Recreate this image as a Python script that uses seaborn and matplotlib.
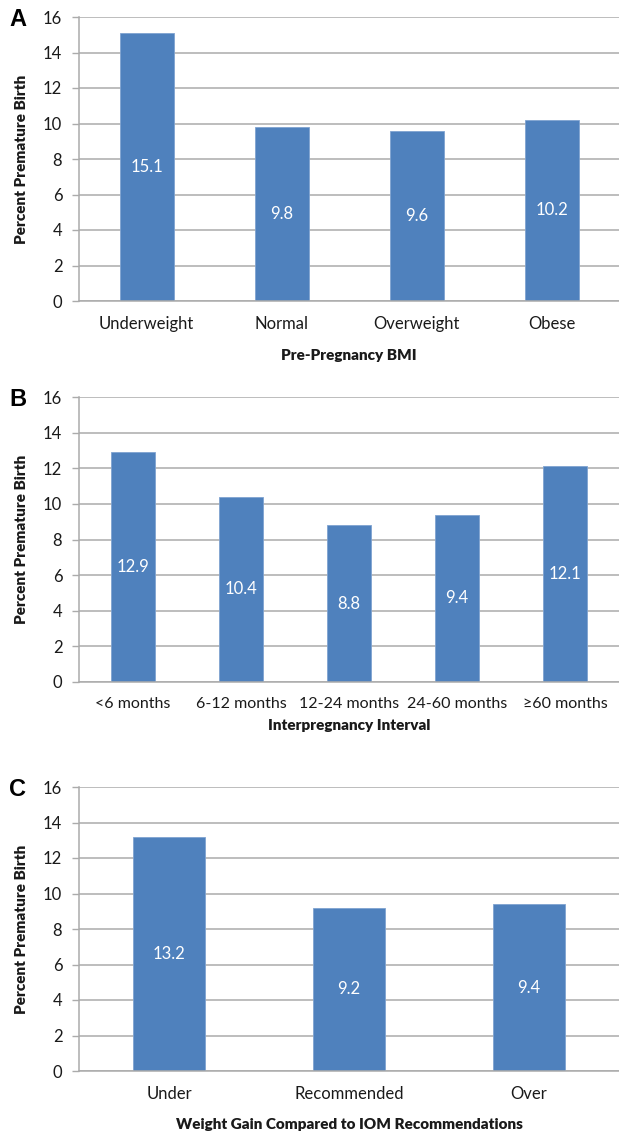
import matplotlib
matplotlib.use("Agg")
import matplotlib.pyplot as plt
import seaborn as sns
import pandas as pd
from matplotlib.ticker import FixedLocator

# Premature birth rates by maternal characteristic
bmi_categories = ["Underweight", "Normal", "Overweight", "Obese"]
bmi_values = [15.1, 9.8, 9.6, 10.2]

interval_categories = ["<6 months", "6-12 months", "12-24 months", "24-60 months", "≥60 months"]
interval_values = [12.9, 10.4, 8.8, 9.4, 12.1]

gain_categories = ["Under", "Recommended", "Over"]
gain_values = [13.2, 9.2, 9.4]

y_ticks = [0, 2, 4, 6, 8, 10, 12, 14, 16]
y_label = "Percent Premature Birth"

panels = [
    ("A", bmi_categories, bmi_values, "Pre-Pregnancy BMI"),
    ("B", interval_categories, interval_values, "Interpregnancy Interval"),
    ("C", gain_categories, gain_values, "Weight Gain Compared to IOM Recommendations"),
]

sns.set_theme(style="white")
plt.rcParams["font.family"] = ["Lato", "DejaVu Sans"]

BAR = "#4F81BD"
GRID = "#ababab"
TEXT = "#1a1a1a"

W, H = 619, 1131
fig = plt.figure(figsize=(W / 100, H / 100), dpi=100)

# axes boxes in pixels: (left, top, right, bottom)
boxes = [(79, 17, 619, 301), (79, 397, 619, 682), (79, 787, 619, 1071)]
# per-panel spacing: (tick label size, x-label pad)
spacing = [(12, 12.3), (11.5, 5.8), (12, 11)]

for (letter, cats, vals, xlabel), (l, t, r, b), (tsize, xpad) in zip(panels, boxes, spacing):
    ax = fig.add_axes([l / W, 1 - b / H, (r - l) / W, (b - t) / H])
    df = pd.DataFrame({"category": cats, "value": vals})
    sns.barplot(data=df, x="category", y="value", color=BAR, saturation=1,
                width=0.4, edgecolor="#7fa3d1", linewidth=0.6, ax=ax)
    n = len(cats)
    ax.set_xlim(-0.5, n - 0.5)
    ax.set_ylim(0, 16)
    ax.set_yticks(y_ticks)
    ax.yaxis.grid(True, color=GRID, linewidth=1.1)
    ax.set_axisbelow(True)
    for s in ["top", "right"]:
        ax.spines[s].set_visible(False)
    for s in ["left", "bottom"]:
        ax.spines[s].set_color(GRID)
        ax.spines[s].set_linewidth(1.1)
    ax.xaxis.set_minor_locator(FixedLocator([i - 0.5 for i in range(n + 1)]))
    ax.tick_params(axis="x", which="major", length=0, pad=11, labelsize=tsize, labelcolor=TEXT)
    ax.tick_params(axis="x", which="minor", length=5, width=1, color=GRID, direction="out")
    ax.tick_params(axis="y", which="major", length=5, width=1, color=GRID, pad=7,
                   labelsize=12, labelcolor=TEXT, left=True)
    ax.set_xlabel(xlabel, fontsize=11, fontweight="heavy", color=TEXT, labelpad=xpad)
    ax.set_ylabel(y_label, fontsize=11, fontweight="heavy", color=TEXT, labelpad=11)
    ax.bar_label(ax.containers[0], labels=[f"{v:.1f}" for v in vals],
                 label_type="center", color="white", fontsize=12)
    fig.text(9 / W, 1 - (t + 2) / H, letter,
             fontsize=17, fontweight="bold", family="Liberation Sans",
             color="black", ha="left", va="center")

fig.savefig("out.png", dpi=100, facecolor="white")
